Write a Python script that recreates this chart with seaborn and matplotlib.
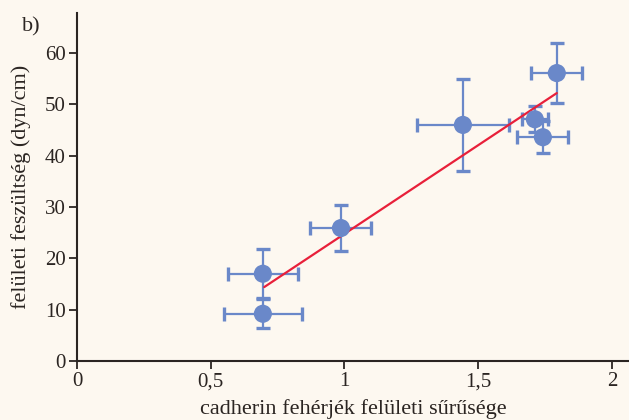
import numpy as np
import pandas as pd
import matplotlib
matplotlib.use('Agg')
import matplotlib.pyplot as plt
import seaborn as sns

# cadherin surface density vs surface tension
density = [0.695, 0.695, 0.987, 1.443, 1.794, 1.712, 1.742]
tension = [9.2, 17.0, 25.9, 46.0, 56.1, 47.1, 43.6]
density_err = [0.146, 0.130, 0.114, 0.172, 0.095, 0.049, 0.095]
tension_err = [2.8, 4.8, 4.5, 8.9, 5.8, 2.5, 3.1]

# fitted line ends
fit_x = [0.70, 1.794]
fit_y = [14.4, 52.2]

x_ticks = [0, 0.5, 1, 1.5, 2]
x_ticklabels = ['0', '0,5', '1', '1,5', '2']
y_ticks = [0, 10, 20, 30, 40, 50, 60]

bg = '#fdf8f0'
blue = '#6a88c9'
red = '#e8203a'
ink = '#2b2522'

sns.set_theme(style='ticks')
plt.rcParams['font.family'] = ['Liberation Serif', 'DejaVu Serif']

df = pd.DataFrame({'x': density, 'y': tension})
fit = pd.DataFrame({'x': fit_x, 'y': fit_y})

fig = plt.figure(figsize=(6.29, 4.20), dpi=100, facecolor=bg)
ax = fig.add_axes([0.1224, 0.1405, 0.8776, 0.8285])
ax.set_facecolor(bg)

ax.errorbar(density, tension, xerr=density_err, yerr=tension_err, fmt='none',
            ecolor=blue, elinewidth=1.6, capsize=5, capthick=2.4, zorder=2)
sns.lineplot(data=fit, x='x', y='y', color=red, linewidth=1.6, ax=ax, zorder=3)
sns.scatterplot(data=df, x='x', y='y', color=blue, s=170, edgecolor='none',
                ax=ax, zorder=4)

ax.set_xlim(0, 2.064)
ax.set_ylim(0, 67.8)
ax.set_xticks(x_ticks)
ax.set_xticklabels(x_ticklabels)
ax.set_yticks(y_ticks)
ax.tick_params(axis='both', direction='out', length=6, width=1.3, color=ink,
               labelsize=15, labelcolor=ink, pad=2)

sns.despine(ax=ax)
for s in ['left', 'bottom']:
    ax.spines[s].set_color(ink)
    ax.spines[s].set_linewidth(1.5)

ax.set_xlabel('cadherin fehérjék felületi sűrűsége', fontsize=16, color=ink, labelpad=6)
ax.set_ylabel('felületi feszültség (dyn/cm)', fontsize=16, color=ink, labelpad=10)

fig.text(0.035, 0.935, 'b)', fontsize=16, color=ink, ha='left', va='center')

fig.savefig('out.png', dpi=100, facecolor=bg)
